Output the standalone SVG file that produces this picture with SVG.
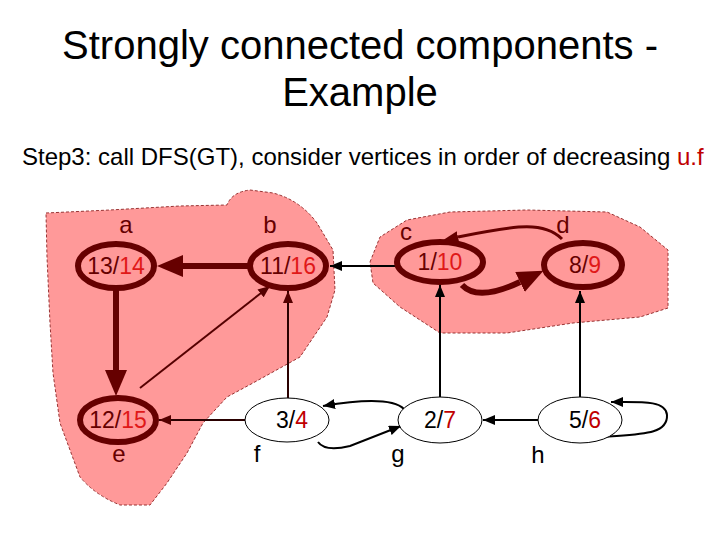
<svg xmlns="http://www.w3.org/2000/svg" width="720" height="540" viewBox="0 0 720 540">
<style>
text{font-family:"Liberation Sans",Arial,sans-serif;fill:#000}
.title{font-size:40px;text-anchor:middle}
.sub{font-size:24px}
.num{font-size:23px;text-anchor:middle}
.lbl{font-size:24px;text-anchor:middle}
.r{fill:#C00000}
.in text{fill:#660000}
.in .r{fill:#E01818}
.thick{fill:#FF9999;stroke:#660000;stroke-width:6}
.thin{fill:#fff;stroke:#000;stroke-width:1}
.e{fill:none;stroke:#000;stroke-width:2}
.em{fill:none;stroke:#550000;stroke-width:2}
.et{fill:none;stroke:#660000;stroke-width:6}
.blob{fill:#FF9999;stroke:#993333;stroke-width:1;stroke-dasharray:3 2}
</style>
<defs>
<marker id="big" markerUnits="userSpaceOnUse" viewBox="0 -11 26 22" refX="0" refY="0" markerWidth="26" markerHeight="22" orient="auto"><path d="M0,-11 L26,0 L0,11 z" fill="#660000"/></marker>
<marker id="mid" markerUnits="userSpaceOnUse" viewBox="0 -6 15 12" refX="0" refY="0" markerWidth="15" markerHeight="12" orient="auto"><path d="M0,-6 L15,0 L0,6 z" fill="#660000"/></marker>
<marker id="sm" markerUnits="userSpaceOnUse" viewBox="0 -5 12 10" refX="12" refY="0" markerWidth="12" markerHeight="10" orient="auto"><path d="M0,-5 L12,0 L0,5 z" fill="#000"/></marker>
<marker id="smm" markerUnits="userSpaceOnUse" viewBox="0 -5 12 10" refX="12" refY="0" markerWidth="12" markerHeight="10" orient="auto"><path d="M0,-5 L12,0 L0,5 z" fill="#550000"/></marker>
</defs>
<text class="title" x="360" y="59">Strongly connected components -</text>
<text class="title" x="360" y="106">Example</text>
<text class="sub" x="22" y="165">Step3: call DFS(GT), consider vertices in order of decreasing <tspan class="r">u.f</tspan></text>
<g id="components">
<path class="blob" d="M46,213 L110,210 L180,206 L227,205 Q232,192 250,190 L273,193 Q300,200 317,223 L333,250 L335,290 L327,317 L300,357 L253,383 L227,397 L203,423 L187,453 L167,483 L150,505 L120,505 Q95,495 80,477 L60,423 L53,373 L50,323 L47,257 Z"/>
<path class="blob" d="M370,262 L380,237 L407,220 L450,212 L527,210 L607,212 L640,227 L668,250 L668,308 L640,317 L573,323 L507,333 L440,333 L400,307 L373,283 Z"/>
</g>
<g id="connectors">
<path class="et" d="M250,266 L183,266" marker-end="url(#big)"/>
<path class="et" d="M116,290 L116,370" marker-end="url(#big)"/>
<path class="et" d="M462,285 Q478,302 520,282" marker-end="url(#big)"/>
<path class="et" style="stroke-width:3" d="M562,239 C545,222 520,224 458,237" marker-end="url(#mid)"/>
<path class="em" d="M140,388 L270,286" marker-end="url(#smm)"/>
<path class="em" style="stroke:#2a0000" d="M288,398 L288,291" marker-end="url(#smm)"/>
<path class="em" style="stroke:#2a0000" d="M245,420 L159,420" marker-end="url(#smm)"/>
<path class="e" d="M395,266 L330,266" marker-end="url(#sm)"/>
<path class="e" d="M440,397 L440,285" marker-end="url(#sm)"/>
<path class="e" d="M580,397 L580,291" marker-end="url(#sm)"/>
<path class="e" d="M538,420 L483,420" marker-end="url(#sm)"/>
<path class="e" d="M603,437 C640,434 668,435 667,415 C666,400 640,402 611,402" marker-end="url(#sm)"/>
<path class="e" d="M318,442 Q325,452 350,446 L401,426" marker-end="url(#sm)"/>
<path class="e" d="M404,409 C395,400 370,398 323,406" marker-end="url(#sm)"/>
</g>
<g id="node-a" class="in"><ellipse class="thick" cx="116" cy="266" rx="38" ry="22"/><text class="num" x="116" y="274">13/<tspan class="r">14</tspan></text><text class="lbl" x="126" y="233">a</text></g>
<g id="node-b" class="in"><ellipse class="thick" cx="288" cy="266" rx="38" ry="22"/><text class="num" x="288" y="274">11/<tspan class="r">16</tspan></text><text class="lbl" x="270" y="233">b</text></g>
<g id="node-c" class="in"><ellipse class="thick" cx="440" cy="262" rx="43" ry="20"/><text class="num" x="440" y="270">1/<tspan class="r">10</tspan></text><text class="lbl" x="406" y="240">c</text></g>
<g id="node-d" class="in"><ellipse class="thick" cx="583" cy="265" rx="39" ry="22"/><text class="num" x="585" y="273">8/<tspan class="r">9</tspan></text><text class="lbl" x="563" y="233">d</text></g>
<g id="node-e" class="in"><ellipse class="thick" cx="118" cy="420" rx="38" ry="22"/><text class="num" x="118" y="428">12/<tspan class="r">15</tspan></text><text class="lbl" x="119" y="462">e</text></g>
<g id="node-f"><ellipse class="thin" cx="287" cy="420" rx="42" ry="22"/><text class="num" x="292" y="428">3/<tspan class="r">4</tspan></text><text class="lbl" x="257" y="462">f</text></g>
<g id="node-g"><ellipse class="thin" cx="440" cy="420" rx="42" ry="23"/><text class="num" x="440" y="428">2/<tspan class="r">7</tspan></text><text class="lbl" x="398" y="462">g</text></g>
<g id="node-h"><ellipse class="thin" cx="580" cy="420" rx="42" ry="23"/><text class="num" x="585" y="428">5/<tspan class="r">6</tspan></text><text class="lbl" x="538" y="463">h</text></g>
</svg>
